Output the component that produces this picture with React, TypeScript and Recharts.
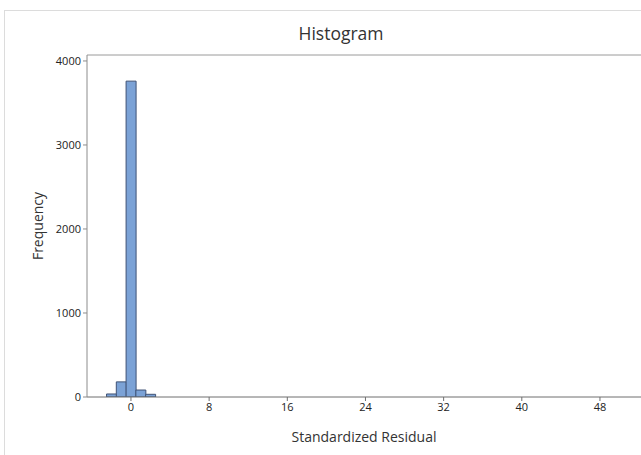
import { BarChart, Bar, XAxis, YAxis, ReferenceLine } from 'recharts';

// histogram bins (centre of bin) and counts
const binCenters = [-2, -1, 0, 1, 2];
const counts = [36, 180, 3760, 83, 32];

const xTicks = [0, 8, 16, 24, 32, 40, 48];
const yTicks = [0, 1000, 2000, 3000, 4000];

const xDomain = [-4.5, 52.2];
const yMax = 4071;

const data = binCenters.map((x, i) => ({ x, count: counts[i] }));

const FONT = '"Open Sans", "Noto Sans", sans-serif';

export default function App() {
  return (
    <div style={{ position: 'absolute', left: 0, top: 0, width: 641, height: 455, background: '#fff', overflow: 'hidden' }}>
      <div
        style={{
          position: 'absolute',
          left: 4,
          top: 10,
          width: 700,
          height: 500,
          borderLeft: '1px solid #dcdcdc',
          borderTop: '1px solid #dcdcdc',
        }}
      />
      <div
        style={{
          position: 'absolute',
          top: 21,
          left: 241,
          width: 200,
          textAlign: 'center',
          fontFamily: FONT,
          fontSize: 17.5,
          color: '#333',
        }}
      >
        Histogram
      </div>
      <div style={{ position: 'absolute', left: 0, top: 0 }}>
        <BarChart
          width={641}
          height={455}
          data={data}
          margin={{ top: 55, right: 0, left: 0, bottom: 0 }}
          barCategoryGap={0}
          barGap={0}
        >
          <XAxis
            dataKey="x"
            type="number"
            domain={xDomain}
            ticks={xTicks}
            allowDataOverflow
            height={58}
            stroke="#6f6f6f"
            tickSize={4}
            tick={{ fontSize: 11, fill: '#222', fontFamily: FONT }}
            label={{
              value: 'Standardized Residual',
              position: 'insideBottom',
              offset: 13,
              fontSize: 14,
              fill: '#333',
              fontFamily: FONT,
            }}
          />
          <YAxis
            type="number"
            domain={[0, yMax]}
            ticks={yTicks}
            allowDataOverflow
            width={87}
            stroke="#8c8c8c"
            tickSize={4}
            tick={{ fontSize: 11, fill: '#222', fontFamily: FONT }}
            label={{
              value: 'Frequency',
              angle: -90,
              position: 'insideLeft',
              offset: 38,
              style: { textAnchor: 'middle' },
              fontSize: 14,
              fill: '#333',
              fontFamily: FONT,
            }}
          />
          <ReferenceLine y={yMax} stroke="#9a9a9a" />
          <Bar
            dataKey="count"
            fill="#7ba2d6"
            stroke="#3f5275"
            strokeWidth={1}
            isAnimationActive={false}
          />
        </BarChart>
      </div>
    </div>
  );
}
